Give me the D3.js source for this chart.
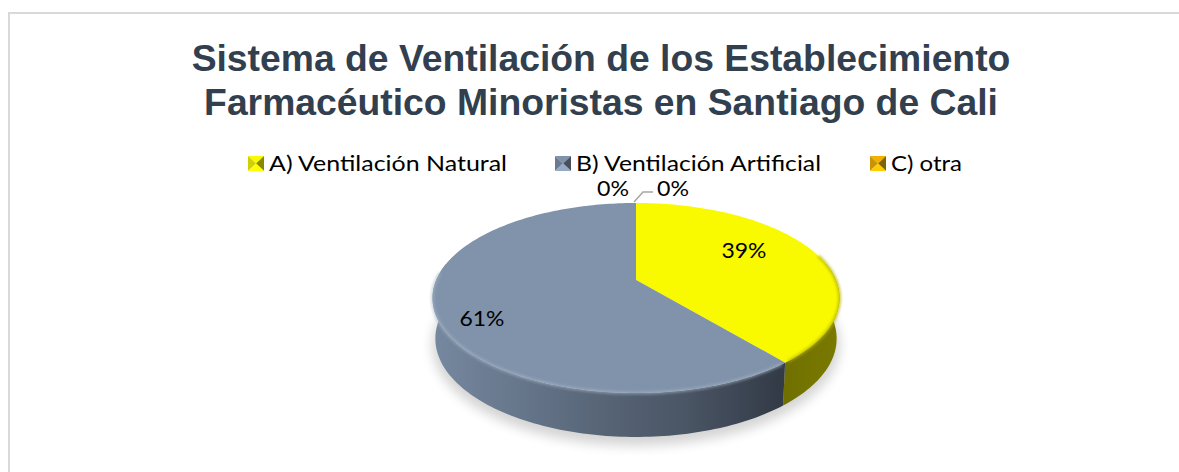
<!DOCTYPE html>
<html>
<head>
<meta charset="utf-8">
<script src="https://cdn.jsdelivr.net/npm/d3@7"></script>
<style>
    body { margin: 0; background: #fff; }
    svg { display: block; }
</style>
</head>
<body>
<div id="chart"></div>
<script>
const categories = ["A) Ventilación Natural", "B) Ventilación Artificial", "C) otra"];
const values = [39, 61, 0];
const labels = ["39%", "61%", "0%"];
const titleLines = ["Sistema de Ventilación de los Establecimiento", "Farmacéutico Minoristas en Santiago de Cali"];
const colors = ["#f9f900", "#8093ab", "#f2b100"];

const width = 1179;
const height = 472;

const svg = d3.select("#chart")
    .append("svg")
    .attr("width", width)
    .attr("height", height);

const defs = svg.append("defs");

defs.append("filter").attr("id", "blur8")
    .attr("x", "-20%").attr("y", "-20%").attr("width", "140%").attr("height", "140%")
    .append("feGaussianBlur").attr("stdDeviation", 6);
defs.append("filter").attr("id", "blur2")
    .attr("x", "-10%").attr("y", "-10%").attr("width", "120%").attr("height", "120%")
    .append("feGaussianBlur").attr("stdDeviation", 1.5);

function addGradient(id, stops) {
    const g = defs.append("linearGradient").attr("id", id)
        .attr("gradientUnits", "userSpaceOnUse")
        .attr("x1", 433).attr("x2", 840).attr("y1", 0).attr("y2", 0);
    stops.forEach(s => g.append("stop").attr("offset", s[0]).attr("stop-color", s[1]));
}
addGradient("sideGray", [[0, "#76889f"], [0.12, "#6d7e94"], [0.4, "#586678"], [0.62, "#4a5565"], [0.85, "#333b47"]]);
addGradient("sideYellow", [[0.8, "#6b6b00"], [1, "#7a7a00"]]);

// chart border, the right and bottom edges fall outside the picture
svg.append("rect")
    .attr("x", 9).attr("y", 13)
    .attr("width", 1200).attr("height", 500)
    .attr("fill", "#fff")
    .attr("stroke", "#d9d9d9")
    .attr("stroke-width", 2);

svg.append("g").selectAll("text")
    .data(titleLines)
    .join("text")
    .attr("x", 601)
    .attr("y", (d, i) => 71 + i * 44)
    .attr("text-anchor", "middle")
    .attr("font-family", "Liberation Sans")
    .attr("font-weight", "bold")
    .attr("font-size", 37.3)
    .attr("fill", "#323f4f")
    .text(d => d);

// perspective projection of the pie disc
const apexX = 636;
const k = 0.1895;
function project(angle, plane) {
    const u = Math.sin(angle), v = -Math.cos(angle), w = 1 - k * v;
    return [apexX + plane.rx * u / w, plane.cy + plane.ry * v / w];
}
const topPlane = { cy: 280, rx: 199.8, ry: 91.6 };
const bottomPlane = { cy: 320, rx: 197, ry: 94.8 };

const pie = d3.pie().value(d => d).sort(null);
const arcs = pie(values);

function rim(a0, a1, plane) {
    const steps = Math.max(2, Math.ceil((a1 - a0) / 0.02));
    return d3.range(steps + 1).map(i => project(a0 + (a1 - a0) * i / steps, plane));
}
const line = d3.line();

// shadow under the disc
svg.append("path")
    .attr("d", line(rim(0, 2 * Math.PI, { cy: 326, rx: 200, ry: 97 })) + "Z")
    .attr("fill", "#000")
    .attr("opacity", 0.17)
    .attr("filter", "url(#blur8)");

// front wall, from the right silhouette to the left silhouette
const wallStart = 1.39;
const wallEnd = 2 * Math.PI - 1.39;
const sides = ["url(#sideYellow)", "url(#sideGray)", "none"];
svg.append("g").selectAll("path")
    .data(arcs)
    .join("path")
    .attr("d", d => {
        const a0 = Math.max(d.startAngle, wallStart);
        const a1 = Math.min(d.endAngle, wallEnd);
        if (a1 <= a0) return null;
        return line(rim(a0, a1, topPlane).concat(rim(a0, a1, bottomPlane).reverse())) + "Z";
    })
    .attr("fill", (d, i) => sides[i]);

// top face
const topFace = svg.append("g");
topFace.selectAll("path")
    .data(arcs)
    .join("path")
    .attr("d", d => d.value > 0
        ? line([[apexX, topPlane.cy]].concat(rim(d.startAngle, d.endAngle, topPlane))) + "Z"
        : null)
    .attr("fill", (d, i) => colors[i]);

// soft bevel along the front edge of the top face
const bevel = svg.append("g").attr("fill", "none").attr("filter", "url(#blur2)");
bevel.append("path")
    .attr("d", line(rim(arcs[1].startAngle + 0.02, wallEnd - 0.1, topPlane)))
    .attr("stroke", "#a7b5c6").attr("stroke-width", 2.2).attr("opacity", 0.8);
bevel.append("path")
    .attr("d", line(rim(wallStart - 0.1, arcs[0].endAngle - 0.02, topPlane)))
    .attr("stroke", "#b5b500").attr("stroke-width", 2.2);

// data labels
const labelData = [
    { text: labels[0], x: 744, y: 258, len: 45 },
    { text: labels[1], x: 482, y: 326, len: 45 },
    { text: labels[2], x: 613, y: 196, len: 32 },
    { text: labels[2], x: 673, y: 196, len: 32 }
];
svg.append("g").selectAll("text")
    .data(labelData)
    .join("text")
    .attr("x", d => d.x)
    .attr("y", d => d.y)
    .attr("text-anchor", "middle")
    .attr("font-family", "Lato")
    .attr("font-size", 21)
    .attr("textLength", d => d.len)
    .attr("lengthAdjust", "spacingAndGlyphs")
    .attr("fill", "#000")
    .text(d => d.text);

// leader line for the zero slices
const rimTop = project(0, topPlane);
svg.append("path")
    .attr("d", line([[rimTop[0] - 2, rimTop[1] - 1], [rimTop[0] + 7, rimTop[1] - 11], [rimTop[0] + 17, rimTop[1] - 11]]))
    .attr("fill", "none")
    .attr("stroke", "#a6a6a6")
    .attr("stroke-width", 1.5);

// legend
const legendX = [248, 555, 870];
const legendLen = [238, 245, 71];
const legend = svg.append("g").selectAll("g")
    .data(categories)
    .join("g")
    .attr("transform", (d, i) => `translate(${legendX[i]},156)`);

const sw = 16, sh = 15;
const facets = [
    { pts: [[0, 0], [sw, 0], [sw / 2, sh / 2]], f: c => d3.rgb(c) },
    { pts: [[0, 0], [0, sh], [sw / 2, sh / 2]], f: c => d3.rgb(c).darker(0.5) },
    { pts: [[sw, 0], [sw, sh], [sw / 2, sh / 2]], f: c => d3.rgb(c).darker(1.7) },
    { pts: [[0, sh], [sw, sh], [sw / 2, sh / 2]], f: c => d3.rgb(c).brighter(0.4) }
];
legend.each(function (d, i) {
    d3.select(this).selectAll("path")
        .data(facets)
        .join("path")
        .attr("d", f => line(f.pts) + "Z")
        .attr("fill", f => f.f(colors[i]));
});
legend.append("text")
    .attr("x", 21)
    .attr("y", 15)
    .attr("font-family", "Lato")
    .attr("font-size", 22)
    .attr("textLength", (d, i) => legendLen[i])
    .attr("lengthAdjust", "spacingAndGlyphs")
    .attr("fill", "#000")
    .text(d => d);
</script>
</body>
</html>
